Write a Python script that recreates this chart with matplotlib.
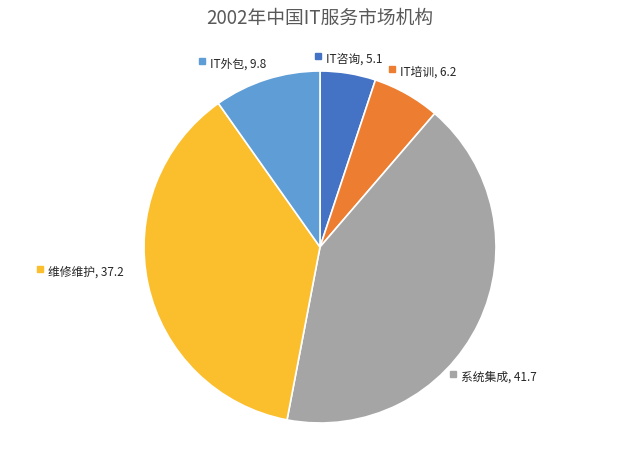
'''
2002年中国IT服务市场机构: pie chart with Excel-style outside labels
'''

import matplotlib
matplotlib.use("Agg")
import matplotlib.pyplot as plt
from matplotlib.transforms import offset_copy

plt.rcParams['font.family'] = ['Noto Sans CJK SC', 'DejaVu Sans']

categories = ["IT咨询", "IT培训", "系统集成", "维修维护", "IT外包"]
values = [5.1, 6.2, 41.7, 37.2, 9.8]
colors = ["#4472C4", "#ED7D31", "#A5A5A5", "#FBBF2D", "#5E9DD6"]
# label marker positions, in pie radius units (centre = 0, 0)
label_pos = [(-0.011, 1.085), (0.409, 1.011), (0.756, -0.722), (-1.591, -0.125), (-0.670, 1.057)]

W, H, dpi = 640, 464, 100
cx, cy, r = 320, 248, 176  # pie centre and radius in pixels

fig = plt.figure(figsize=(W / dpi, H / dpi), dpi=dpi)
ax = fig.add_axes([0, 0, 1, 1])

ax.pie(values, colors=colors, startangle=90, counterclock=False, radius=1,
       wedgeprops=dict(edgecolor="white", linewidth=1.2))
# pie() resets the limits, so set them afterwards
ax.set_xlim(-cx / r, (W - cx) / r)
ax.set_ylim(-(H - cy) / r, cy / r)
ax.axis("off")

for name, val, col, (x, y) in zip(categories, values, colors, label_pos):
    ax.plot(x, y, "s", ms=4, color=col, mec=col, clip_on=False)
    tr = offset_copy(ax.transData, fig=fig, x=6, y=-1.5, units="points")
    ax.text(x, y, f"{name}, {val}", transform=tr, fontsize=8.5, color="#262626",
            ha="left", va="center")

fig.text(0.5, 1 - 18 / H, "2002年中国IT服务市场机构", ha="center", va="center",
         fontsize=13.5, color="#595959")

fig.savefig("out.png", dpi=dpi)
